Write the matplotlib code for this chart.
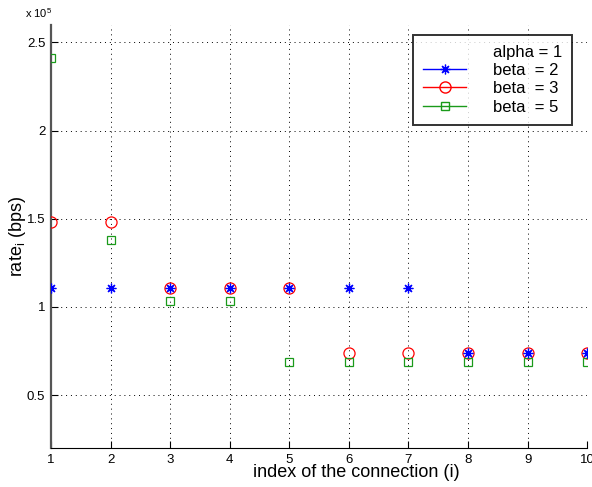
import matplotlib.pyplot as plt
from matplotlib.lines import Line2D
import numpy as np

plt.rcParams['font.family'] = ['Liberation Sans', 'DejaVu Sans']

# connection index
idx = np.arange(1, 11)

# rates (x 1e5 bps)
rate_beta2 = [1.11, 1.11, 1.11, 1.11, 1.11, 1.11, 1.11, 0.74, 0.74, 0.74]
rate_beta3 = [1.48, 1.48, 1.11, 1.11, 1.11, 0.74, 0.74, 0.74, 0.74, 0.74]
rate_beta5 = [2.41, 1.38, 1.035, 1.035, 0.69, 0.69, 0.69, 0.69, 0.69, 0.69]

labels = ['alpha = 1', 'beta  = 2', 'beta  = 3', 'beta  = 5']

green = '#1a9a1a'
star = (8, 2, 0)

fig = plt.figure(figsize=(5.92, 4.87), dpi=100)
ax = fig.add_axes([0.086, 0.080, 0.906, 0.869])

ax.plot(idx, np.array(rate_beta3) * 1e5, 'o', color='red', mfc='none',
        markersize=8, mew=0.9, zorder=3)
ax.plot(idx, np.array(rate_beta5) * 1e5, 's', color=green, mfc='none',
        markersize=6, mew=0.9, zorder=3)
ax.plot(idx, np.array(rate_beta2) * 1e5, marker=star, ls='none', color='blue',
        markersize=7, mew=0.9, zorder=4)

leg_handles = [
    Line2D([], [], color='white'),
    Line2D([], [], color='blue', marker=star, markersize=7, mew=0.9, lw=1),
    Line2D([], [], color='red', marker='o', mfc='none', markersize=8, lw=1),
    Line2D([], [], color=green, marker='s', mfc='none', markersize=6, lw=1),
]
leg = ax.legend(leg_handles, labels, loc='upper right', bbox_to_anchor=(0.972, 0.977),
                fontsize=12, frameon=True, fancybox=False, edgecolor='black',
                handlelength=2.6, handletextpad=1.6, borderpad=0.6,
                labelspacing=0.2, borderaxespad=0)
leg.get_frame().set_linewidth(1.4)
leg.set_zorder(10)

ax.set_xlim(1, 10)
ax.set_ylim(0.2e5, 2.6e5)
ax.set_xticks(idx)
ax.set_yticks([0.5e5, 1e5, 1.5e5, 2e5, 2.5e5])
ax.set_yticklabels(['0.5', '1', '1.5', '2', '2.5'])
ax.tick_params(labelsize=9.5, direction='in', length=5, width=0.8, pad=4)

ax.grid(True, linestyle=(0, (1, 4)), color='black', linewidth=0.7)
ax.spines['top'].set_visible(False)
ax.spines['right'].set_visible(False)
ax.spines['left'].set_color('#555555')
ax.spines['left'].set_linewidth(1.6)

ax.set_xlabel('index of the connection (i)', fontsize=13)
ax.xaxis.set_label_coords(0.569, -0.038)
ax.set_ylabel('rate$_\\mathregular{i}$ (bps)', fontsize=13)
ax.yaxis.set_label_coords(-0.043, 0.5)

fig.text(0.042, 0.963, 'x 10$^\\mathregular{5}$', fontsize=8)

fig.savefig('out.png', dpi=100)
